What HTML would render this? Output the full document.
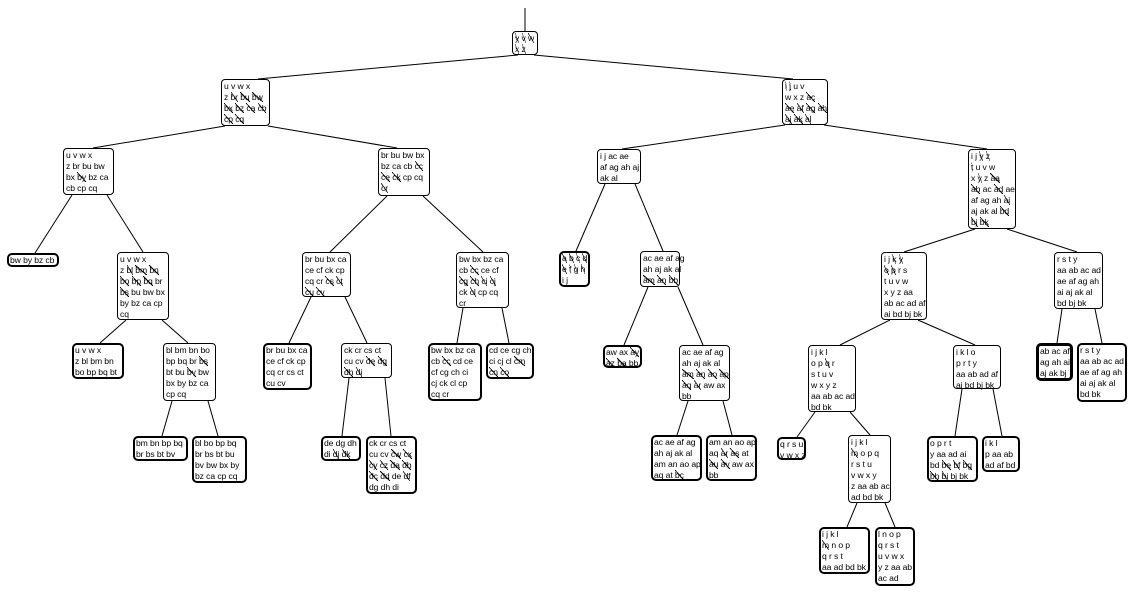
<!DOCTYPE html>
<html><head><meta charset="utf-8"><style>
html,body{margin:0;padding:0;background:#fff;}
body{width:1135px;height:594px;position:relative;overflow:hidden;font-family:"Liberation Sans",Arial,sans-serif;font-size:8.6px;letter-spacing:-0.1px;color:#000;}
svg{position:absolute;left:0;top:0;}
.b{position:absolute;box-sizing:border-box;background:#fff;border:1px solid #000;border-radius:4px;padding:1px 0 0 2px;line-height:11px;white-space:nowrap;}
.t{border-width:2px;padding:0 0 0 1px;border-radius:5px;}
.tt{border-width:3px;padding:0 0 0 1px;border-radius:5px;}
.b div{height:11px;}
i{font-style:normal;background:linear-gradient(to top right,transparent 46%,#000 46%,#000 53%,transparent 53%);}
</style></head><body>
<svg width="1135" height="594" viewBox="0 0 1135 594">
<g stroke="#000" stroke-width="1" fill="none">
<line x1="525" y1="8" x2="525" y2="31"/>
<line x1="518" y1="55" x2="258" y2="79"/>
<line x1="534" y1="55" x2="793" y2="79"/>
<line x1="225" y1="126" x2="93" y2="148"/>
<line x1="268" y1="126" x2="397" y2="148"/>
<line x1="785" y1="125" x2="622" y2="149"/>
<line x1="824" y1="125" x2="987" y2="149"/>
<line x1="72" y1="195" x2="35" y2="253"/>
<line x1="107" y1="195" x2="143" y2="252"/>
<line x1="126" y1="320" x2="100" y2="343"/>
<line x1="162" y1="320" x2="188" y2="343"/>
<line x1="172" y1="401" x2="162" y2="436"/>
<line x1="208" y1="401" x2="218" y2="436"/>
<line x1="387" y1="196" x2="330" y2="252"/>
<line x1="423" y1="196" x2="483" y2="252"/>
<line x1="311" y1="297" x2="289" y2="343"/>
<line x1="345" y1="297" x2="367" y2="343"/>
<line x1="349" y1="378" x2="342" y2="436"/>
<line x1="385" y1="378" x2="391" y2="436"/>
<line x1="463" y1="308" x2="457" y2="343"/>
<line x1="502" y1="308" x2="509" y2="343"/>
<line x1="605" y1="184" x2="576" y2="251"/>
<line x1="635" y1="184" x2="663" y2="251"/>
<line x1="648" y1="287" x2="624" y2="345"/>
<line x1="678" y1="287" x2="703" y2="345"/>
<line x1="688" y1="401" x2="677" y2="435"/>
<line x1="723" y1="401" x2="732" y2="435"/>
<line x1="975" y1="229" x2="904" y2="252"/>
<line x1="1007" y1="229" x2="1077" y2="252"/>
<line x1="890" y1="320" x2="840" y2="345"/>
<line x1="918" y1="320" x2="975" y2="345"/>
<line x1="1062" y1="309" x2="1057" y2="343"/>
<line x1="1095" y1="309" x2="1102" y2="343"/>
<line x1="815" y1="412" x2="797" y2="437"/>
<line x1="850" y1="412" x2="870" y2="435"/>
<line x1="962" y1="389" x2="955" y2="436"/>
<line x1="993" y1="389" x2="1002" y2="436"/>
<line x1="857" y1="503" x2="847" y2="527"/>
<line x1="885" y1="503" x2="895" y2="527"/>
</g></svg>

<div class="b" style="left:512px;top:31px;width:26px;height:24px;"><div><i>y</i> <i>v</i> <i>w</i></div><div><i>x</i> <i>z</i></div></div>

<div class="b" style="left:221px;top:79px;width:49px;height:47px;"><div>u v w x</div><div>z <i>br</i> <i>bu</i> <i>bw</i></div><div><i>bx</i> <i>bz</i> <i>ca</i> <i>cb</i></div><div><i>cp</i> <i>cq</i></div></div>

<div class="b" style="left:782px;top:79px;width:46px;height:46px;"><div><i>i</i> <i>j</i> u v</div><div>w x z <i>ac</i></div><div><i>ae</i> <i>af</i> <i>ag</i> <i>ah</i></div><div><i>aj</i> <i>ak</i> <i>al</i></div></div>

<div class="b" style="left:63px;top:148px;width:51px;height:47px;"><div>u v w x</div><div>z br bu bw</div><div>bx <i>by</i> bz ca</div><div>cb cp cq</div></div>

<div class="b" style="left:378px;top:148px;width:52px;height:48px;"><div>br bu bw bx</div><div>bz ca cb <i>cc</i></div><div><i>ce</i> <i>ck</i> cp cq</div><div><i>cr</i></div></div>

<div class="b" style="left:597px;top:149px;width:44px;height:35px;"><div>i j ac ae</div><div>af ag ah aj</div><div>ak al</div></div>

<div class="b" style="left:968px;top:149px;width:48px;height:80px;"><div>i j <i>y</i> <i>z</i></div><div><i>t</i> u v w</div><div>x <i>y</i> z <i>aa</i></div><div><i>ab</i> ac <i>ad</i> ae</div><div>af ag ah <i>ai</i></div><div>aj ak al <i>bd</i></div><div><i>bj</i> <i>bk</i></div></div>

<div class="b t" style="left:7px;top:253px;width:52px;height:14px;"><div>bw by bz cb</div></div>

<div class="b" style="left:117px;top:252px;width:52px;height:68px;"><div>u v w x</div><div>z <i>bl</i> <i>bm</i> <i>bn</i></div><div><i>bo</i> <i>bp</i> <i>bq</i> br</div><div><i>bs</i> bu bw bx</div><div>by bz ca cp</div><div>cq</div></div>

<div class="b t" style="left:72px;top:343px;width:52px;height:36px;"><div>u v w x</div><div>z bl bm bn</div><div>bo bp bq bt</div></div>

<div class="b" style="left:163px;top:343px;width:53px;height:58px;"><div>bl bm bn bo</div><div>bp bq br <i>bs</i></div><div>bt bu <i>bv</i> bw</div><div>bx by bz ca</div><div>cp cq</div></div>

<div class="b t" style="left:133px;top:436px;width:55px;height:25px;"><div>bm bn bp bq</div><div>br bs bt bv</div></div>

<div class="b t" style="left:192px;top:436px;width:55px;height:47px;"><div>bl bo bp bq</div><div>br bs bt bu</div><div>bv bw bx by</div><div>bz ca cp cq</div></div>

<div class="b" style="left:302px;top:252px;width:49px;height:45px;"><div>br bu bx ca</div><div>ce cf ck cp</div><div>cq cr <i>cs</i> <i>ct</i></div><div><i>cu</i> <i>cv</i></div></div>

<div class="b" style="left:456px;top:252px;width:53px;height:56px;"><div>bw bx bz ca</div><div>cb <i>cc</i> ce cf</div><div><i>cg</i> <i>ch</i> <i>ci</i> <i>cj</i></div><div>ck <i>cl</i> cp cq</div><div>cr</div></div>

<div class="b t" style="left:263px;top:343px;width:49px;height:47px;"><div>br bu bx ca</div><div>ce cf ck cp</div><div>cq cr cs ct</div><div>cu cv</div></div>

<div class="b" style="left:341px;top:343px;width:51px;height:35px;"><div>ck cr cs ct</div><div>cu cv <i>de</i> <i>dg</i></div><div><i>dh</i> <i>di</i></div></div>

<div class="b t" style="left:321px;top:436px;width:40px;height:25px;"><div>de dg dh</div><div>di <i>dj</i> <i>dk</i></div></div>

<div class="b t" style="left:366px;top:436px;width:51px;height:58px;"><div>ck cr cs ct</div><div>cu cv <i>cw</i> <i>cx</i></div><div><i>cy</i> <i>cz</i> <i>da</i> <i>db</i></div><div><i>dc</i> <i>dd</i> de <i>df</i></div><div>dg dh di</div></div>

<div class="b t" style="left:428px;top:343px;width:54px;height:58px;"><div>bw bx bz ca</div><div>cb <i>cc</i> cd ce</div><div>cf cg ch ci</div><div>cj ck cl cp</div><div>cq cr</div></div>

<div class="b t" style="left:486px;top:343px;width:48px;height:36px;"><div>cd ce cg ch</div><div>ci cj cl <i>cm</i></div><div><i>cn</i> <i>co</i></div></div>

<div class="b t" style="left:559px;top:251px;width:31px;height:36px;"><div><i>a</i> <i>b</i> <i>c</i> <i>d</i></div><div><i>e</i> <i>f</i> <i>g</i> <i>h</i></div><div>i j</div></div>

<div class="b" style="left:640px;top:251px;width:40px;height:36px;"><div>ac ae af ag</div><div>ah aj ak al</div><div><i>am</i> <i>an</i> <i>bb</i></div></div>

<div class="b t" style="left:603px;top:345px;width:39px;height:23px;"><div>aw ax <i>ay</i></div><div><i>az</i> <i>ba</i> bb</div></div>

<div class="b" style="left:679px;top:345px;width:51px;height:56px;"><div>ac ae af ag</div><div>ah aj ak al</div><div><i>am</i> <i>an</i> <i>ao</i> <i>ap</i></div><div><i>aq</i> <i>ar</i> aw ax</div><div>bb</div></div>

<div class="b t" style="left:651px;top:435px;width:51px;height:46px;"><div>ac ae af ag</div><div>ah aj ak al</div><div>am an ao ap</div><div>aq at <i>bc</i></div></div>

<div class="b t" style="left:706px;top:435px;width:51px;height:46px;"><div>am an ao ap</div><div>aq <i>ar</i> <i>as</i> at</div><div><i>au</i> <i>av</i> aw ax</div><div>bb</div></div>

<div class="b" style="left:881px;top:252px;width:46px;height:68px;"><div>i j <i>k</i> <i>y</i></div><div><i>o</i> <i>p</i> r s</div><div>t u v w</div><div>x y z aa</div><div>ab ac ad af</div><div>ai bd bj bk</div></div>

<div class="b" style="left:1054px;top:252px;width:49px;height:57px;"><div>r s t y</div><div>aa ab ac ad</div><div>ae af ag ah</div><div>ai aj ak al</div><div>bd bj bk</div></div>

<div class="b" style="left:808px;top:345px;width:48px;height:67px;"><div>i j k l</div><div>o p <i>q</i> r</div><div>s t u v</div><div>w x y z</div><div>aa ab ac ad</div><div>bd bk</div></div>

<div class="b" style="left:953px;top:345px;width:48px;height:44px;"><div>i k l o</div><div>p r t y</div><div>aa ab ad af</div><div>ai bd bj bk</div></div>

<div class="b tt" style="left:1036px;top:343px;width:37px;height:38px;"><div>ab ac af</div><div>ag ah ai</div><div>aj ak bj</div></div>

<div class="b t" style="left:1077px;top:343px;width:50px;height:59px;"><div>r s t y</div><div>aa ab ac ad</div><div>ae af ag ah</div><div>ai aj ak al</div><div>bd bk</div></div>

<div class="b t" style="left:927px;top:436px;width:51px;height:46px;"><div>o p r t</div><div>y aa ad ai</div><div>bd <i>be</i> <i>bf</i> <i>bg</i></div><div><i>bh</i> <i>bi</i> bj bk</div></div>

<div class="b t" style="left:982px;top:436px;width:38px;height:36px;"><div>i k l</div><div>p aa ab</div><div>ad af bd</div></div>

<div class="b t" style="left:777px;top:437px;width:29px;height:23px;"><div>q r s u</div><div>v w x z</div></div>

<div class="b" style="left:848px;top:435px;width:43px;height:68px;"><div>i j k l</div><div><i>m</i> o p q</div><div>r s t u</div><div>v w x y</div><div>z aa ab ac</div><div>ad bd bk</div></div>

<div class="b t" style="left:819px;top:527px;width:51px;height:47px;"><div>i j k l</div><div><i>m</i> n o p</div><div>q r s t</div><div>aa ad bd bk</div></div>

<div class="b t" style="left:875px;top:527px;width:40px;height:59px;"><div>l n o p</div><div>q r s t</div><div>u v w x</div><div>y z aa ab</div><div>ac ad</div></div>

</body></html>
